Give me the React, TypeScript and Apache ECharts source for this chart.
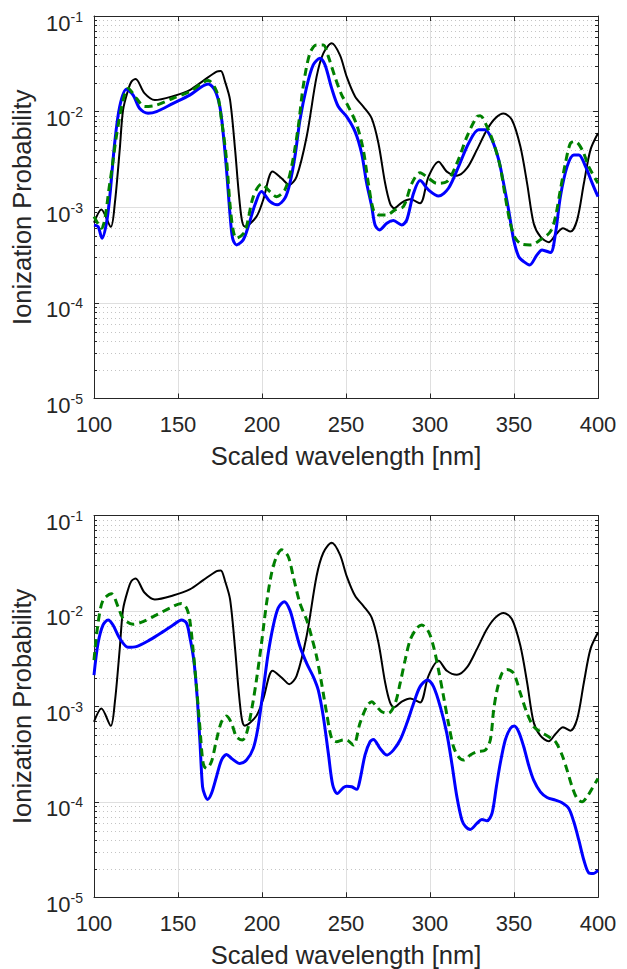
import React, { useEffect, useRef } from "react";
import * as echarts from "echarts";

// ---------- data (wavelength [nm], ionization probability) ----------
const blackCurve: [number, number][] = [
  [100, 6.9e-4], [104.4, 9.5e-4], [110, 6.25e-4], [112.4, 1.1e-3], [115.3, 3.98e-3],
  [117.3, 1.04e-2], [120.3, 1.68e-2], [122.3, 2.06e-2], [124.8, 2.19e-2], [130, 1.56e-2],
  [136.2, 1.32e-2], [147, 1.45e-2], [157, 1.68e-2], [165, 2.1e-2], [173, 2.62e-2],
  [175.5, 2.66e-2], [178, 2.06e-2], [181, 1.32e-2], [184, 3.98e-3], [186, 1.52e-3],
  [188, 7.38e-4], [189.8, 6.28e-4], [196.7, 7.98e-4], [200.7, 1.19e-3], [206.3, 2.36e-3],
  [211.6, 2.01e-3], [216.2, 1.71e-3], [220.6, 2.09e-3], [226.6, 5.5e-3], [232.5, 2.32e-2],
  [236.5, 4.07e-2], [241.5, 5.18e-2], [246.4, 3.89e-2], [250.4, 2.32e-2], [255.4, 1.44e-2],
  [260.3, 1.13e-2], [265.3, 8.51e-3], [269.3, 4.67e-3], [273.3, 1.78e-3], [276.2, 1.1e-3],
  [278.6, 9.77e-4], [283.2, 1.12e-3], [288.2, 1.21e-3], [294.1, 1.1e-3], [299.1, 2.09e-3],
  [305.1, 3.0e-3], [310, 2.36e-3], [316, 2.14e-3], [322, 2.56e-3], [327.9, 3.98e-3],
  [333.9, 6.46e-3], [338.9, 8.51e-3], [343.8, 9.53e-3], [348.8, 8.18e-3], [353.8, 4.31e-3],
  [357.8, 1.78e-3], [361.7, 6.81e-4], [365.7, 4.93e-4], [370.7, 4.31e-4], [374.7, 5.14e-4],
  [379.2, 6.03e-4], [383.6, 5.57e-4], [387.6, 7.38e-4], [391.6, 1.78e-3], [395.5, 3.98e-3],
  [400, 5.94e-3],
];

const greenTop: [number, number][] = [
  [100, 7.98e-4], [104.4, 6.03e-4], [109.4, 1.78e-3], [113.3, 5.48e-3], [117.3, 1.32e-2],
  [120.3, 1.75e-2], [125.2, 1.38e-2], [130.2, 1.13e-2], [137.2, 1.17e-2], [147, 1.38e-2],
  [157, 1.62e-2], [168, 2.11e-2], [173, 1.62e-2], [175.9, 8.18e-3], [178.9, 3.13e-3],
  [180.9, 1.1e-3], [182.8, 5.79e-4], [184.8, 4.74e-4], [189.8, 5.57e-4], [194.8, 1.29e-3],
  [199.7, 1.75e-3], [204.7, 1.46e-3], [208.6, 1.29e-3], [213.6, 1.52e-3], [217.6, 2.66e-3],
  [221.6, 6.97e-3], [224.5, 1.82e-2], [228.5, 4.07e-2], [232.5, 4.98e-2], [236.5, 4.98e-2],
  [239.5, 3.76e-2], [243.4, 2.32e-2], [247.4, 1.5e-2], [251.4, 1.13e-2], [256.4, 7.26e-3],
  [260.3, 3.98e-3], [263.3, 1.78e-3], [266.3, 9.38e-4], [269.3, 8.32e-4], [274.3, 8.32e-4],
  [279.2, 9.38e-4], [284.2, 1.02e-3], [289.2, 1.78e-3], [294.1, 2.3e-3], [299.1, 2.01e-3],
  [304.1, 1.78e-3], [310, 1.85e-3], [316, 2.88e-3], [322, 5.48e-3], [327.9, 8.87e-3],
  [329.9, 9.08e-3], [333.9, 6.97e-3], [337.9, 4.67e-3], [341.8, 2.66e-3], [344.8, 1.29e-3],
  [347.8, 6.81e-4], [350.8, 4.74e-4], [354.8, 4.1e-4], [359.7, 4.04e-4], [365.7, 4.56e-4],
  [371.7, 5.57e-4], [374.7, 7.98e-4], [377.6, 1.52e-3], [380.6, 2.88e-3], [383.6, 4.67e-3],
  [386.6, 4.85e-3], [390.6, 3.98e-3], [394.5, 2.66e-3], [400, 1.78e-3],
];

const blueTop: [number, number][] = [
  [100, 6.53e-4], [102.4, 6.28e-4], [104.8, 4.74e-4], [107.4, 6.81e-4], [109.4, 1.29e-3],
  [112.3, 4.67e-3], [115.3, 1.13e-2], [119.3, 1.71e-2], [123.3, 1.49e-2], [127.2, 1.08e-2],
  [132.2, 9.62e-3], [137.2, 1.0e-2], [147.1, 1.22e-2], [157, 1.49e-2], [168, 1.95e-2],
  [171.9, 1.68e-2], [174.9, 1.13e-2], [176.9, 5.94e-3], [178.9, 2.45e-3], [180.9, 8.65e-4],
  [182.5, 4.74e-4], [184.8, 4.04e-4], [188.8, 4.56e-4], [191.8, 6.28e-4], [195.8, 1.06e-3],
  [199.7, 1.46e-3], [204.7, 1.15e-3], [209.1, 1.06e-3], [213.6, 1.24e-3], [216.6, 1.78e-3],
  [219.6, 3.39e-3], [222.6, 8.18e-3], [226.6, 1.82e-2], [230.5, 3.08e-2], [234.5, 3.61e-2],
  [237.5, 3.08e-2], [241.5, 1.75e-2], [245.4, 1.13e-2], [250.4, 8.87e-3], [255.4, 6.18e-3],
  [259.3, 3.66e-3], [262.3, 1.78e-3], [265.3, 1.02e-3], [267.3, 6.53e-4], [269.9, 5.79e-4],
  [274.3, 6.81e-4], [278.2, 7.26e-4], [283.2, 6.53e-4], [286.2, 7.38e-4], [290.2, 1.4e-3],
  [294.1, 1.9e-3], [299.1, 1.52e-3], [305.1, 1.31e-3], [311, 1.58e-3], [317, 2.66e-3],
  [323, 4.67e-3], [328.9, 6.46e-3], [332.9, 6.46e-3], [336.9, 5.06e-3], [340.9, 3.13e-3],
  [343.8, 1.78e-3], [346.8, 9.38e-4], [349.8, 4.56e-4], [352.8, 3.05e-4], [355.8, 2.7e-4],
  [359.3, 2.49e-4], [363.7, 3.18e-4], [366.7, 3.58e-4], [371.7, 3.36e-4], [374.7, 5.35e-4],
  [377.6, 1.29e-3], [381.6, 2.66e-3], [385.6, 3.52e-3], [388.6, 3.52e-3], [392.6, 2.66e-3],
  [396.6, 1.78e-3], [400, 1.29e-3],
];

const greenBottom: [number, number][] = [
  [100, 3.06e-3], [102.4, 7.43e-3], [105.4, 1.3e-2], [110.4, 1.51e-2], [114.3, 1.11e-2],
  [117.3, 8.38e-3], [123.3, 7.24e-3], [129.2, 7.73e-3], [137.2, 9.08e-3], [145.1, 1.07e-2],
  [152.1, 1.2e-2], [155.1, 1.07e-2], [157, 8.05e-3], [159, 3.9e-3], [161, 1.61e-3],
  [163, 6.12e-4], [165, 2.52e-4], [167, 2.24e-4], [169.9, 2.63e-4], [172.9, 4.44e-4],
  [175.9, 6.9e-4], [178.9, 7.93e-4], [181.9, 6.64e-4], [184.8, 4.81e-4], [188.4, 4.44e-4],
  [190.8, 5.21e-4], [193.8, 9.16e-4], [196.7, 1.89e-3], [199.7, 4.58e-3], [202.7, 1.2e-2],
  [205.7, 2.48e-2], [208.7, 3.72e-2], [211.7, 4.37e-2], [215.6, 3.72e-2], [218.6, 2.29e-2],
  [222.6, 1.2e-2], [226.6, 8.05e-3], [229.5, 5.38e-3], [232.5, 3.32e-3], [235.5, 1.74e-3],
  [238.5, 8.45e-4], [241.5, 4.61e-4], [244.4, 4.26e-4], [248.4, 4.44e-4], [250.4, 4.44e-4],
  [254.4, 3.93e-4], [258.3, 6.64e-4], [262.3, 9.93e-4], [265.3, 1.12e-3], [268.3, 9.93e-4],
  [271.3, 8.79e-4], [275.2, 8.45e-4], [279.2, 1.07e-3], [282.2, 1.74e-3], [285.2, 3.06e-3],
  [288.2, 4.97e-3], [292.1, 6.58e-3], [295.1, 7.13e-3], [299.1, 6.07e-3], [302.1, 4.23e-3],
  [305.1, 2.4e-3], [308.1, 1.26e-3], [311, 6.64e-4], [314, 3.78e-4], [317, 2.96e-4],
  [320, 2.74e-4], [324, 3.09e-4], [327.9, 3.34e-4], [332.9, 3.48e-4], [335.9, 4.44e-4],
  [337.9, 9.16e-4], [339.9, 1.48e-3], [342.8, 2.22e-3], [345.8, 2.44e-3], [349.8, 2.22e-3],
  [353.8, 1.37e-3], [357.8, 8.45e-4], [361.7, 6.12e-4], [365.7, 5.42e-4], [370.7, 4.81e-4],
  [374.7, 4.26e-4], [378.6, 3.09e-4], [381.6, 2.15e-4], [384.6, 1.44e-4], [387.6, 1.08e-4],
  [390.6, 1.0e-4], [393.5, 1.13e-4], [396.5, 1.38e-4], [400, 1.76e-4],
];

const blueBottom: [number, number][] = [
  [100, 2.13e-3], [102.4, 4.58e-3], [105.4, 7.13e-3], [108.4, 8.05e-3], [111.3, 7.13e-3],
  [115.3, 5.16e-3], [120.3, 4.16e-3], [125.2, 4.23e-3], [133.2, 4.97e-3], [141.1, 6.07e-3],
  [147.1, 7.13e-3], [152.1, 8.05e-3], [155.1, 7.43e-3], [157, 5.38e-3], [159.4, 3.06e-3],
  [161.4, 1.26e-3], [163, 4.44e-4], [164.6, 1.44e-4], [166, 1.17e-4], [167.6, 1.06e-4],
  [169.9, 1.22e-4], [172.9, 1.83e-4], [175.9, 2.74e-4], [178.9, 3.14e-4], [181.9, 2.85e-4],
  [186.8, 2.52e-4], [190.8, 2.74e-4], [194.8, 3.63e-4], [197.7, 6.12e-4], [200.7, 1.48e-3],
  [203.7, 3.6e-3], [206.6, 6.85e-3], [209.6, 1.07e-2], [213.2, 1.25e-2], [216.6, 1.02e-2],
  [219.6, 6.58e-3], [222.6, 4.23e-3], [226.6, 2.82e-3], [230.5, 2.05e-3], [233.5, 1.48e-3],
  [236.5, 7.8e-4], [239.5, 3.21e-4], [242.1, 1.5e-4], [244.8, 1.22e-4], [248.4, 1.41e-4],
  [250.4, 1.46e-4], [253.4, 1.44e-4], [256.4, 1.35e-4], [258.3, 1.69e-4], [261.3, 3.09e-4],
  [264.3, 4.26e-4], [266.3, 4.51e-4], [270.3, 3.62e-4], [274.3, 3.09e-4], [278.2, 3.48e-4],
  [282.2, 4.44e-4], [286.2, 6.64e-4], [290.2, 1.07e-3], [294.1, 1.61e-3], [298.5, 1.89e-3],
  [302.1, 1.61e-3], [306.1, 9.93e-4], [310, 5.21e-4], [313, 2.52e-4], [316, 1.13e-4],
  [319, 6.43e-5], [321, 5.56e-5], [324, 5.13e-5], [327.9, 5.93e-5], [330.9, 6.53e-5],
  [333.9, 6.32e-5], [336.9, 7.55e-5], [339.5, 1.44e-4], [341.8, 2.52e-4], [344.8, 4.44e-4],
  [347.8, 5.87e-4], [350.2, 6.22e-4], [352.8, 5.42e-4], [355.8, 3.78e-4], [358.7, 2.43e-4],
  [361.7, 1.69e-4], [365.7, 1.27e-4], [369.7, 1.11e-4], [374.7, 1.04e-4], [378.6, 9.77e-5],
  [382.6, 8.51e-5], [385.6, 6.17e-5], [388.6, 3.96e-5], [391.6, 2.44e-5], [394.5, 1.8e-5],
  [397.1, 1.77e-5], [400, 1.92e-5],
];

const xMin = 100;
const xMax = 400;
const xStep = 50;
const yMin = 1e-5;
const yMax = 1e-1;
const xTitle = "Scaled wavelength [nm]";
const yTitle = "Ionization Probability";

// ---------- styling ----------
const FONT = '"Liberation Sans", Arial, Helvetica, sans-serif';
const AX = "#262626";
const MAJOR_GRID = "#dfdfdf";
const MINOR_GRID = "#c4c4c4";

const minorValues: number[] = [];
for (let e = -5; e <= -2; e++) {
  for (let m = 2; m <= 9; m++) minorValues.push(m * Math.pow(10, e));
}

const grids = [
  { left: 94, top: 16, width: 504, height: 382.5 },
  { left: 94, top: 515.5, width: 504, height: 382 },
];

const panels = [
  { black: blackCurve, blue: blueTop, green: greenTop },
  { black: blackCurve, blue: blueBottom, green: greenBottom },
];

function buildOption() {
  const xAxis: any[] = [];
  const yAxis: any[] = [];
  const series: any[] = [];

  grids.forEach((_, i) => {
    xAxis.push({
      type: "value", gridIndex: i, min: xMin, max: xMax, interval: xStep, position: "bottom",
      axisLine: { show: true, onZero: false, lineStyle: { color: AX, width: 1 } },
      axisTick: { show: true, inside: true, length: 5, lineStyle: { color: AX, width: 1 } },
      axisLabel: { fontSize: 22, color: AX, margin: 15, fontFamily: FONT, lineHeight: 22 },
      splitLine: { show: true, lineStyle: { color: MAJOR_GRID, width: 1 } },
      name: xTitle, nameLocation: "middle", nameGap: 45,
      nameTextStyle: { fontSize: 25.5, lineHeight: 25.5, color: AX, fontFamily: FONT },
    });
    xAxis.push({
      type: "value", gridIndex: i, min: xMin, max: xMax, interval: xStep, position: "top",
      axisLine: { show: true, onZero: false, lineStyle: { color: AX, width: 1 } },
      axisTick: { show: true, inside: true, length: 5, lineStyle: { color: AX, width: 1 } },
      axisLabel: { show: false },
      splitLine: { show: false },
    });
    yAxis.push({
      type: "log", logBase: 10, gridIndex: i, min: yMin, max: yMax, splitNumber: 4, position: "left",
      axisLine: { show: true, onZero: false, lineStyle: { color: AX, width: 1 } },
      axisTick: { show: true, inside: true, length: 5, lineStyle: { color: AX, width: 1 } },
      axisLabel: {
        margin: 11,
        padding: [9, 0, 0, 0],
        formatter: (v: number) => `{b|10}{s|${Math.round(Math.log10(v))}}`,
        rich: {
          b: { fontSize: 22, lineHeight: 22, color: AX, fontFamily: FONT, padding: [5, 0, 0, 0] },
          s: { fontSize: 14, lineHeight: 14, color: AX, fontFamily: FONT, verticalAlign: "top" },
        },
      },
      splitLine: { show: true, lineStyle: { color: MAJOR_GRID, width: 1 } },
      name: yTitle, nameLocation: "middle", nameGap: 57,
      nameTextStyle: { fontSize: 25.5, lineHeight: 25.5, color: AX, fontFamily: FONT },
    });
    yAxis.push({
      type: "log", logBase: 10, gridIndex: i, min: yMin, max: yMax, splitNumber: 4, position: "right",
      axisLine: { show: true, onZero: false, lineStyle: { color: AX, width: 1 } },
      axisTick: { show: true, inside: true, length: 5, lineStyle: { color: AX, width: 1 } },
      axisLabel: { show: false },
      splitLine: { show: false },
    });

    const xi = 2 * i;
    const yi = 2 * i;

    // minor log grid (dotted) + minor ticks on left and right edges
    series.push({
      type: "custom", xAxisIndex: xi, yAxisIndex: yi, z: 1, silent: true, clip: false,
      data: minorValues.map((v) => [xMin, v]),
      renderItem: (_p: any, api: any) => {
        const v = api.value(1);
        const p0 = api.coord([xMin, v]);
        const p1 = api.coord([xMax, v]);
        const y = Math.round(p0[1]) + 0.5;
        return {
          type: "group",
          children: [
            { type: "line", shape: { x1: p0[0] + 1, y1: y, x2: p1[0] - 1, y2: y },
              style: { stroke: MINOR_GRID, lineWidth: 1, lineDash: [1, 3] } },
            { type: "line", shape: { x1: p0[0], y1: y, x2: p0[0] + 3, y2: y },
              style: { stroke: AX, lineWidth: 1 } },
            { type: "line", shape: { x1: p1[0] - 3, y1: y, x2: p1[0], y2: y },
              style: { stroke: AX, lineWidth: 1 } },
          ],
        };
      },
    });

    const p = panels[i];
    series.push({
      type: "line", xAxisIndex: xi, yAxisIndex: yi, data: p.black, showSymbol: false,
      smooth: 0.3, z: 3, lineStyle: { color: "#000000", width: 2 },
    });
    series.push({
      type: "line", xAxisIndex: xi, yAxisIndex: yi, data: p.blue, showSymbol: false,
      smooth: 0.3, z: 4, lineStyle: { color: "#0000ff", width: 3 },
    });
    series.push({
      type: "line", xAxisIndex: xi, yAxisIndex: yi, data: p.green, showSymbol: false,
      smooth: 0.3, z: 5, lineStyle: { color: "#008000", width: 3, type: [8, 5] },
    });
  });

  return {
    animation: false,
    backgroundColor: "#ffffff",
    textStyle: { fontFamily: FONT },
    grid: grids.map((g) => ({ ...g, containLabel: false })),
    xAxis,
    yAxis,
    series,
  };
}

export default function App() {
  const ref = useRef<HTMLDivElement>(null);
  useEffect(() => {
    if (!ref.current) return;
    const chart = echarts.init(ref.current, undefined, { renderer: "svg" });
    chart.setOption(buildOption());
    return () => chart.dispose();
  }, []);
  return (
    <div
      ref={ref}
      style={{ position: "absolute", left: 0, top: 0, width: 627, height: 969 }}
    />
  );
}
